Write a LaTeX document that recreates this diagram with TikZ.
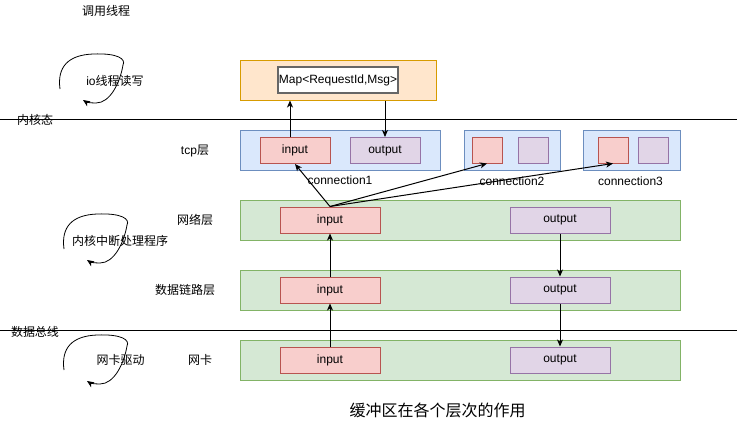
\documentclass[tikz,border=0pt]{standalone}
\usepackage{fontspec}
\setmainfont{Liberation Sans}
\newfontfamily\cjk{Noto Sans CJK SC}
\usetikzlibrary{positioning}
\usetikzlibrary{arrows.meta}
\definecolor{appFill}{HTML}{FFE6CC}
\definecolor{appLine}{HTML}{D79B00}
\definecolor{tcpFill}{HTML}{DAE8FC}
\definecolor{tcpLine}{HTML}{6C8EBF}
\definecolor{layerFill}{HTML}{D5E8D4}
\definecolor{layerLine}{HTML}{82B366}
\definecolor{inFill}{HTML}{F8CECC}
\definecolor{inLine}{HTML}{B85450}
\definecolor{outFill}{HTML}{E1D5E7}
\definecolor{outLine}{HTML}{9673A6}
\definecolor{mapLine}{HTML}{666666}
\tikzstyle{pixel} = [x = 1pt, y = -1pt, every node/.style={font=\fontsize{12}{14}\selectfont, inner sep=0pt}]
\tikzstyle{boxStyle} = [draw, line width=1pt, minimum width=#1]
\tikzstyle{layerBox} = [boxStyle=440, minimum height=40, fill=layerFill, draw=layerLine]
\tikzstyle{inBox} = [boxStyle=#1, minimum height=26, fill=inFill, draw=inLine]
\tikzstyle{outBox} = [boxStyle=#1, minimum height=26, fill=outFill, draw=outLine]
\tikzstyle{flow} = [line width=1pt, -{Stealth[length=7pt, width=6pt, inset=2pt]}]
\tikzstyle{loopLine} = [line width=0.8pt, -{Stealth[length=7pt, width=6pt, inset=2pt]}]
\tikzstyle{divider} = [line width=1pt]
\newcommand{\bufferLayer}[4]{
  \node [layerBox] (#1Box) at (460, #2) {};
  \node [inBox=100] (#1In) at (330, #2) {input};
  \node [outBox=100] (#1Out) at (560, #2) {output};
  \node (#1Label) at (#3, #2) {\cjk #4};
}
\newcommand{\loopArrow}[2]{\draw [loopLine, shift={(#1, #2)}] (0, 0) .. controls (-3, -22) and (8, -34) .. (33, -35) .. controls (58, -36) and (66, -30) .. (63, -24) .. controls (60, -6) and (50, 14) .. (36, 14) .. controls (30, 14) and (26, 13) .. (23, 11);}
\begin{document}
\begin{tikzpicture}[pixel]
  \useasboundingbox (0, 0) rectangle (737, 421);
  % user space
  \node (userLabel) at (106, 11) {\cjk 调用线程};
  \node (ioLabel) at (115, 81) {io{\cjk 线程读写}};
  \loopArrow{60}{89}
  \node [boxStyle=196, minimum height=40, fill=appFill, draw=appLine] (appBox) at (338, 80) {};
  \node [boxStyle=120, minimum height=26, fill=white, draw=mapLine, line width=2pt] (mapBox) at (338, 80) {Map<RequestId,Msg>};
  \draw [divider] (0, 119) -- (737, 119);
  \node (kernelLabel) at (35, 120) {\cjk 内核态};
  % tcp connections
  \node [boxStyle=200, minimum height=40, fill=tcpFill, draw=tcpLine] (tcpBox) at (340, 150) {};
  \node [inBox=70] (tcpIn) at (295, 150.5) {input};
  \node [outBox=70] (tcpOut) at (385, 150.5) {output};
  \node (tcpLabel) at (195, 151) {tcp{\cjk 层}};
  \node [below=5pt of tcpBox] (connOne) {connection1};
  \node [boxStyle=96, minimum height=40, fill=tcpFill, draw=tcpLine] (connTwoBox) at (512, 150) {};
  \node [inBox=30] (connTwoIn) at (487, 150) {};
  \node [outBox=30] (connTwoOut) at (533, 150) {};
  \node (connTwo) at (512, 181) {connection2};
  \node [boxStyle=97, minimum height=40, fill=tcpFill, draw=tcpLine] (connThreeBox) at (631.5, 150) {};
  \node [inBox=30] (connThreeIn) at (613, 150) {};
  \node [outBox=30] (connThreeOut) at (653, 150) {};
  \node (connThree) at (630.5, 181) {connection3};
  % kernel layers
  \bufferLayer{net}{220}{195}{网络层}
  \node (irqLabel) at (120, 241) {\cjk 内核中断处理程序};
  \loopArrow{64}{249}
  \bufferLayer{link}{290}{185}{数据链路层}
  \draw [divider] (0, 330) -- (737, 330);
  \node (busLabel) at (35, 332) {\cjk 数据总线};
  \bufferLayer{nic}{360}{200}{网卡}
  \node (driverLabel) at (120.5, 360) {\cjk 网卡驱动};
  \loopArrow{64}{370}
  % data flow
  \draw [flow] ([xshift=-5pt]tcpIn.north) -- ([xshift=-5pt]tcpIn.north |- appBox.south);
  \draw [flow] (tcpOut.north |- appBox.south) -- (tcpOut.north);
  \draw [flow] (netIn.north) -- (tcpIn.south);
  \draw [flow] (netIn.north) -- (connTwoIn.south);
  \draw [flow] (netIn.north) -- (connThreeIn.south);
  \draw [flow] (linkIn.north) -- (netIn.south);
  \draw [flow] (nicIn.north) -- (linkIn.south);
  \draw [flow] (netOut.south) -- (linkOut.north);
  \draw [flow] (linkOut.south) -- (nicOut.north);
  \node [font=\cjk\fontsize{16}{18}\selectfont] (title) at (437.5, 410) {缓冲区在各个层次的作用};
\end{tikzpicture}
\end{document}
